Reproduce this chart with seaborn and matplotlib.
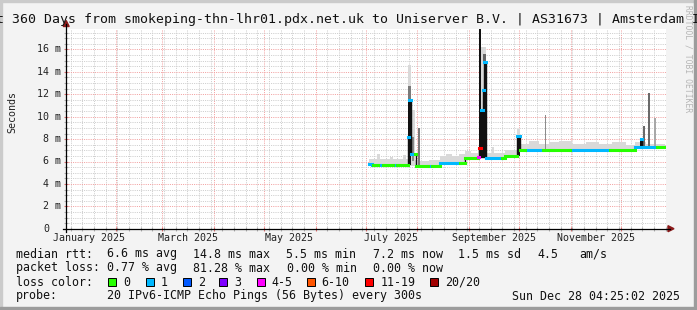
import numpy as np
import pandas as pd
import matplotlib
matplotlib.use("Agg")
import matplotlib.pyplot as plt
import seaborn as sns
from matplotlib.patches import Rectangle, Polygon
from matplotlib.lines import Line2D

# ------------------------------------------------------------------
# Data (x = day of year 2025, y = round trip time in milliseconds)
# ------------------------------------------------------------------
median_day = [184.2, 186.0, 207.2, 208.2, 209.2, 212.0, 226.6, 241.6, 249.6, 250.2,
              251.2, 252.2, 253.2, 254.0, 265.6, 272.6, 274.6, 343.6, 347.0, 348.0]
median_ms = [5.8, 5.7, 8.2, 11.5, 6.7, 5.6, 5.9, 6.35, 6.4, 7.2,
             10.6, 12.4, 14.9, 6.3, 6.45, 8.3, 7.0, 7.27, 8.0, 7.3]
median_end_day = 361.6

loss_day = [184.2, 186.6, 189.6, 192.6, 198.6, 200.6, 207.2, 211.6, 219.6, 221.6,
            226.6, 238.6, 249.6, 250.2, 251.2, 263.6, 272.6, 274.6, 277.6, 288.6,
            292.6, 294.6, 304.6, 328.6, 343.6, 356.6]
loss_cat = ["1", "0", "1", "0", "1", "0", "1", "0", "1", "0",
            "1", "0", "4-5", "11-19", "1", "0", "1", "0", "1", "0",
            "1", "0", "1", "0", "1", "0"]

smoke_day = [184.2, 188.6, 190.6, 196.6, 198.6, 204.6, 206.2, 207.2, 209.2, 211.6,
             213.2, 214.6, 220.0, 226.6, 230.0, 234.0, 238.0, 241.6, 245.0, 249.6,
             251.2, 254.0, 258.0, 259.0, 265.6, 272.6, 274.6, 280.0, 286.0, 292.0,
             298.0, 306.0, 314.0, 322.0, 330.0, 338.0, 343.6, 350.0]
smoke_lo = [5.6, 5.6, 5.6, 5.6, 5.6, 5.6, 5.6, 5.6, 5.6, 5.5,
            5.5, 5.5, 5.5, 5.8, 5.8, 5.8, 5.8, 6.2, 6.2, 6.2,
            6.2, 6.2, 6.2, 6.2, 6.3, 6.3, 6.9, 6.9, 6.9, 6.9,
            6.9, 6.9, 6.9, 6.9, 6.9, 6.9, 7.1, 7.1]
smoke_hi = [6.2, 6.65, 6.2, 6.4, 6.2, 6.6, 6.2, 14.6, 10.6, 6.1,
            9.0, 6.05, 6.1, 6.5, 6.7, 6.5, 6.7, 6.9, 6.8, 7.0,
            16.25, 6.8, 7.3, 6.8, 7.0, 8.9, 7.6, 7.8, 7.6, 7.7,
            7.8, 7.6, 7.7, 7.6, 7.7, 7.5, 7.7, 7.6]

core_day0 = [207.2, 207.2, 209.6, 213.2, 250.2, 251.2, 252.2, 253.2, 252.2, 272.6,
             289.4, 346.6, 348.2, 351.2, 355.2]
core_day1 = [209.0, 209.0, 211.0, 214.6, 251.0, 252.2, 253.2, 254.0, 254.0, 274.4,
             290.0, 347.6, 349.6, 352.6, 356.2]
core_lo = [5.7, 11.5, 6.0, 5.6, 6.4, 6.3, 6.3, 6.3, 14.9, 6.45,
           7.0, 7.3, 7.3, 7.3, 7.3]
core_hi = [11.5, 12.7, 8.2, 9.0, 17.9, 10.6, 12.4, 14.9, 15.6, 8.3,
           10.15, 8.0, 9.2, 12.1, 9.85]
core_shade = ["#111111", "#7a7a7a", "#8a8a8a", "#7a7a7a", "#111111", "#111111", "#111111",
              "#111111", "#666666", "#111111", "#8c8c8c", "#111111", "#6a6a6a", "#6a6a6a",
              "#a8a8a8"]

loss_labels = ["0", "1", "2", "3", "4-5", "6-10", "11-19", "20/20"]
loss_colors = ["#26ff00", "#00b8ff", "#0059ff", "#7e00ff", "#ff00ff", "#ff5500", "#ff0000", "#a10000"]

y_tick_values = [0, 2, 4, 6, 8, 10, 12, 14, 16]
y_tick_labels = ["0", "2 m", "4 m", "6 m", "8 m", "10 m", "12 m", "14 m", "16 m"]
month_start_day = [32, 60, 91, 121, 152, 182, 213, 244, 274, 305, 335]
month_label_day = [16.25, 75.25, 136.25, 197.25, 259.25, 320.25]
month_labels = ["January 2025", "March 2025", "May 2025", "July 2025",
                "September 2025", "November 2025"]

title = ("Last 360 Days from smokeping-thn-lhr01.pdx.net.uk to Uniserver B.V. | "
         "AS31673 | Amsterdam IPv6")
legend_rows = [
    [(16, "median rtt:"), (107.3, "6.6 ms avg"), (193.3, "14.8 ms max"),
     (286.0, "5.5 ms min"), (373.0, "7.2 ms now"), (458.0, "1.5 ms sd"),
     (537.0, "4.5"), (579.0, "am/s")],
    [(16, "packet loss:"), (107.3, "0.77 % avg"), (193.3, "81.28 % max"),
     (286.7, "0.00 % min"), (373.0, "0.00 % now")],
]
probe_text = "20 IPv6-ICMP Echo Pings (56 Bytes) every 300s"
date_text = "Sun Dec 28 04:25:02 2025"
loss_box_x = [108, 145.7, 182.7, 219.3, 256.7, 306.7, 365.3, 430.3]

# ------------------------------------------------------------------
W, H = 697, 310
X0, X1 = 2.184, 362.184
YMAX = 200 / 11.2
MONO = "DejaVu Sans Mono"
plt.rcParams["font.family"] = [MONO]

fig = plt.figure(figsize=(W / 100, H / 100), dpi=100)
fig.patch.set_facecolor("#f3f3f3")


def F(x, y):
    return x / W, 1 - y / H


ax = fig.add_axes([66 / W, 1 - 228.7 / H, 600 / W, 200 / H])
ax.set_facecolor("white")
ax.set_xlim(X0, X1)
ax.set_ylim(0, YMAX)
for s in ax.spines.values():
    s.set_visible(False)

# grid
week_days = np.arange(5, 363, 7)
ax.set_xticks(month_start_day)
ax.set_xticks(week_days, minor=True)
ax.set_yticks(y_tick_values)
ax.set_yticks(np.arange(0.5, YMAX, 0.5), minor=True)
ax.tick_params(which="both", labelbottom=False, labelleft=False)
ax.tick_params(which="major", color="#e07070", length=3, direction="inout", width=0.8)
ax.tick_params(which="minor", color="#b0b0b0", length=3, direction="inout", width=0.8)
ax.grid(which="minor", color="#cdcdcd", lw=0.72, ls=(0, (1, 1.2)), zorder=0)
ax.grid(which="major", color="#f2a0a0", lw=0.72, ls=(0, (1, 1.2)), zorder=0)
ax.set_axisbelow(True)

# smoke
sd = smoke_day + [median_end_day]
ax.fill_between(sd, smoke_lo + [smoke_lo[-1]], smoke_hi + [smoke_hi[-1]],
                step="post", color="#d9d9d9", lw=0, zorder=2)
# smoke cores
ax.bar(core_day0, np.array(core_hi) - np.array(core_lo), bottom=core_lo,
       width=np.array(core_day1) - np.array(core_day0), align="edge",
       color=core_shade, lw=0, zorder=3)

# median line segments coloured by loss
ends = median_day[1:] + [median_end_day]
lb = loss_day + [median_end_day + 1]
rows = []
sid = 0
for i, (a, b) in enumerate(zip(median_day, ends)):
    for j in range(len(loss_day)):
        lo, hi = max(a, lb[j]), min(b, lb[j + 1])
        if hi > lo:
            rows.append((sid, lo, median_ms[i], loss_cat[j]))
            rows.append((sid, hi, median_ms[i], loss_cat[j]))
            sid += 1
df = pd.DataFrame(rows, columns=["seg", "day", "ms", "loss"])
# vertical connectors
for i in range(1, len(median_day)):
    ax.plot([median_day[i], median_day[i]], [median_ms[i - 1], median_ms[i]],
            color="#111111", lw=1.0, zorder=4)
sns.lineplot(data=df, x="day", y="ms", hue="loss", units="seg", estimator=None,
             palette=dict(zip(loss_labels, loss_colors)), linewidth=2.2,
             legend=False, sort=False, ax=ax, zorder=5)
ax.set_xlabel("")
ax.set_ylabel("")

# axes lines and arrows
fig.add_artist(Line2D([F(63, 0)[0], F(670, 0)[0]], [F(0, 228.7)[1]] * 2, color="black", lw=0.9))
fig.add_artist(Line2D([F(66.2, 0)[0]] * 2, [F(0, 231.5)[1], F(0, 24)[1]], color="black", lw=0.9))
fig.add_artist(Polygon([F(668, 225.7), F(674, 228.7), F(668, 231.7)], closed=True,
                       color="#8b1a1a", transform=fig.transFigure))
fig.add_artist(Polygon([F(63.2, 26.5), F(66.2, 20.5), F(69.2, 26.5)], closed=True,
                       color="#8b1a1a", transform=fig.transFigure))

# axis labels
for v, lab in zip(y_tick_values, y_tick_labels):
    xr = 60.8 if lab != "0" else 49.2
    fig.text(*F(xr, 228.7 - v * 11.2), lab, ha="right", va="center", fontsize=7.2,
             family=MONO, color="#222222")
for d, lab in zip(month_label_day, month_labels):
    fig.text(*F(66 + (d - X0) / 0.6, 238), lab, ha="center", va="center", fontsize=7.2,
             family=MONO, color="#222222")
fig.text(*F(12, 112), "Seconds", rotation=90, ha="center", va="center", fontsize=7.2,
         family=MONO, color="#222222")

# title
fig.text(*F(348.5, 19.5), title, ha="center", va="center", fontsize=9.55,
         family=MONO, color="#111111")

# legend
for r, row in enumerate(legend_rows):
    for x, t in row:
        fig.text(*F(x, 254 + 14 * r), t, ha="left", va="center", fontsize=8.4,
                 family=MONO, color="#111111")
fig.text(*F(16, 282), "loss color:", ha="left", va="center", fontsize=8.4, family=MONO,
         color="#111111")
for x, lab, c in zip(loss_box_x, loss_labels, loss_colors):
    fig.add_artist(Rectangle(F(x, 286), 8 / W, 8 / H, facecolor=c, edgecolor="black",
                             lw=0.7, transform=fig.transFigure))
    fig.text(*F(x + 15, 282), lab, ha="left", va="center", fontsize=8.4, family=MONO,
             color="#111111")
fig.text(*F(16, 296), "probe:", ha="left", va="center", fontsize=8.4, family=MONO,
         color="#111111")
fig.text(*F(107.3, 296), probe_text, ha="left", va="center", fontsize=8.4, family=MONO,
         color="#111111")
fig.text(*F(680.5, 296), date_text, ha="right", va="center", fontsize=8.4, family=MONO,
         color="#111111")

# watermark
fig.text(*F(688, 5), "RRDTOOL / TOBI OETIKER", rotation=-90, ha="center", va="top",
         fontsize=5.8, family=MONO, color="#b5b5b5")

# frame
fig.add_artist(Rectangle((0, 1 - 2 / H), 1, 2 / H, color="#cbcbcb", transform=fig.transFigure))
fig.add_artist(Rectangle((0, 0), 2 / W, 1, color="#cbcbcb", transform=fig.transFigure))
fig.add_artist(Rectangle((0, 0), 1, 3 / H, color="#9c9c9c", transform=fig.transFigure))
fig.add_artist(Rectangle((1 - 3 / W, 0), 3 / W, 1, color="#9c9c9c", transform=fig.transFigure))

fig.savefig("out.png", dpi=100, facecolor=fig.get_facecolor())
